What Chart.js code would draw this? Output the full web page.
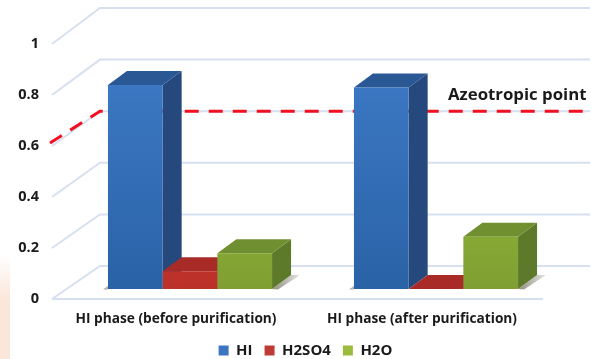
<!DOCTYPE html>
<html><head><meta charset="utf-8">
<script src="https://cdn.jsdelivr.net/npm/chart.js@4"></script>
<style>html,body{margin:0;padding:0;background:#fff}#w{width:591px;height:359px;position:relative}</style>
</head><body><div id="w"><canvas id="c" width="591" height="359"></canvas></div>
<script>
const categories = ['HI phase (before purification)', 'HI phase (after purification)'];
const seriesNames = ['HI', 'H2SO4', 'H2O'];
const hiValues = [0.8, 0.79];
const h2so4Values = [0.07, 0];
const h2oValues = [0.14, 0.205];
const yTicks = [0, 0.2, 0.4, 0.6, 0.8, 1];
const azeotropeValue = 0.6;
const azeotropeLabel = 'Azeotropic point';

const FONT = '"Open Sans", Lato, sans-serif';
const palette = [
  {top:'#2a5894', side:'#25497c', f0:'#3f7cc9', f1:'#2a62a6', key:'#3d76c0'},
  {top:'#a82b28', side:'#8f2422', f0:'#dc3d34', f1:'#bb3129', key:'#be3a34'},
  {top:'#6f8f30', side:'#5d7a2a', f0:'#a5cc3c', f1:'#7f9f33', key:'#9bbb3c'}
];
const DX = 19, DY = 14;          // bar depth
const WALL_X0 = 52, WALL_X1 = 100, WALL_END = 590;

function front(sc, v){ return sc.getPixelForValue(v) + 10; }
function back(sc, v){ return sc.getPixelForValue(v) - 23 - 3 * v; }

function poly(ctx, pts, fill){
  ctx.beginPath();
  pts.forEach((p,i)=> i ? ctx.lineTo(p[0],p[1]) : ctx.moveTo(p[0],p[1]));
  ctx.closePath(); ctx.fillStyle = fill; ctx.fill();
}

const scene = {
  id:'scene',
  afterLayout(chart){
    const lg = chart.legend;
    lg.top += 9; lg.bottom += 9;
    lg.left += 26; lg.right += 26;
    chart.scales.x.bottom += 30;
  },
  beforeDraw(chart){
    const ctx = chart.ctx;
    const g = ctx.createLinearGradient(0,255,0,300);
    g.addColorStop(0,'#ffffff'); g.addColorStop(1,'#fbe6da');
    ctx.fillStyle = g; ctx.fillRect(0,255,10,104);
  },
  beforeDatasetsDraw(chart){
    const ctx = chart.ctx, sc = chart.scales.y;
    ctx.save();
    ctx.strokeStyle = '#d7e0f0'; ctx.lineWidth = 2;
    yTicks.forEach(v=>{
      ctx.beginPath();
      ctx.moveTo(WALL_X0, front(sc,v));
      ctx.lineTo(WALL_X1, back(sc,v));
      ctx.lineTo(WALL_END, back(sc,v));
      ctx.stroke();
    });
    ctx.beginPath();
    ctx.moveTo(WALL_X0, front(sc,0)); ctx.lineTo(543, front(sc,0)); ctx.stroke();
    ctx.strokeStyle = '#f0101f'; ctx.lineWidth = 3; ctx.setLineDash([14,10]);
    ctx.beginPath();
    ctx.moveTo(WALL_X0-2, front(sc,azeotropeValue)-3);
    ctx.lineTo(WALL_X1, back(sc,azeotropeValue));
    ctx.lineTo(WALL_END, back(sc,azeotropeValue));
    ctx.stroke(); ctx.setLineDash([]);
    const last = chart.getDatasetMeta(2).data, firstB = chart.getDatasetMeta(0).data;
    firstB.forEach((b,i)=>{
      const l = b.x - b.width/2, r = last[i].x + last[i].width/2, y0 = b.base;
      const sg = ctx.createLinearGradient(r,0,r+28,0);
      sg.addColorStop(0,'#8e8e82'); sg.addColorStop(1,'#e6e6e2');
      poly(ctx,[[r,y0],[r+DX,y0-DY],[r+28,y0-DY],[r+6,y0+0.5]],sg);
      poly(ctx,[[l-5,y0+0.5],[l,y0-3],[l,y0+0.5]],'#b0b0a8');
    });
    [0,1,2].forEach(d=>{
      chart.getDatasetMeta(d).data.forEach(b=>{
        const l = b.x-b.width/2, r = b.x+b.width/2, t = b.y, y0 = b.base, p = palette[d];
        poly(ctx,[[r,t],[r+DX,t-DY],[r+DX,y0-DY],[r,y0]],p.side);
        poly(ctx,[[l,t],[l+DX,t-DY],[r+DX,t-DY],[r,t]],p.top);
      });
    });
    ctx.restore();
  },
  afterDraw(chart){
    const ctx = chart.ctx;
    ctx.save();
    ctx.font = 'bold 16.8px '+FONT; ctx.fillStyle = '#1a1a1a';
    ctx.textAlign = 'left'; ctx.textBaseline = 'middle';
    ctx.fillText(azeotropeLabel, 448, 95);
    ctx.restore();
  }
};

function faceGrad(d){
  return c=>{
    const sc = c.chart.scales.y;
    const el = c.element;
    const yTop = (el && el.y !== undefined) ? el.y : (sc ? sc.top : 0);
    const yBot = sc ? sc.bottom : 288;
    if (!isFinite(yTop) || !isFinite(yBot) || yTop===yBot) return palette[d].f1;
    const g = c.chart.ctx.createLinearGradient(0,yTop,0,yBot);
    g.addColorStop(0,palette[d].f0); g.addColorStop(1,palette[d].f1);
    return g;
  };
}
const seriesValues = [hiValues, h2so4Values, h2oValues];
new Chart(document.getElementById('c'),{
  type:'bar',
  plugins:[scene],
  data:{labels:categories,datasets:seriesNames.map((n,i)=>({
    label:n,data:seriesValues[i],backgroundColor:faceGrad(i),
    categoryPercentage:0.667,barPercentage:1,borderWidth:0
  }))},
  options:{
    responsive:false,animation:false,
    layout:{padding:{top:34,left:0,right:32,bottom:0}},
    plugins:{
      tooltip:{enabled:false},
      legend:{position:'bottom',align:'center',
        labels:{boxWidth:10,boxHeight:10,padding:12,color:'#1a1a1a',
          font:{family:FONT,weight:'bold',size:15},
          generateLabels:()=>seriesNames.map((n,i)=>({text:n,fillStyle:palette[i].key,strokeStyle:palette[i].key,lineWidth:0,datasetIndex:i,fontColor:'#1a1a1a'}))}}
    },
    scales:{
      x:{grid:{display:false},border:{display:false},
        afterFit(s){s.height=33;},
        ticks:{labelOffset:-14,padding:14,maxRotation:0,color:'#1a1a1a',font:{family:FONT,weight:'bold',size:13.7}}},
      y:{min:0,max:1,grid:{display:false},border:{display:false},
        afterFit(s){s.width=67;},
        afterBuildTicks(s){s.ticks=yTicks.map(v=>({value:v}));},
        ticks:{labelOffset:10,padding:20,color:'#1a1a1a',font:{family:FONT,weight:'bold',size:14.5},
          callback:v=>String(v)}}
    }
  }
});
</script></body></html>
